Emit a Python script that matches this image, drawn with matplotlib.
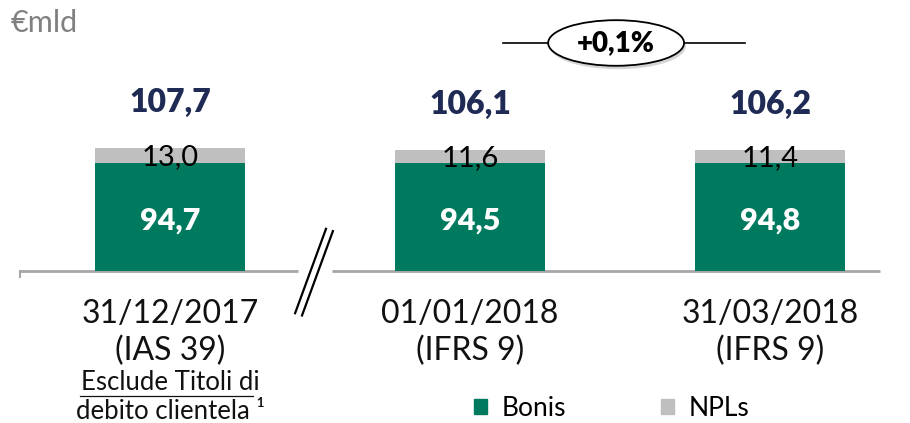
import matplotlib.pyplot as plt
from matplotlib.patches import Ellipse, Patch

# data
dates = ['31/12/2017', '01/01/2018', '31/03/2018']
standards = ['(IAS 39)', '(IFRS 9)', '(IFRS 9)']
bonis = [94.7, 94.5, 94.8]
npls = [13.0, 11.6, 11.4]
totals = [107.7, 106.1, 106.2]

green = '#007A5E'
grey = '#BFBFBF'
navy = '#1F2A55'

plt.rcParams['font.family'] = ['Lato', 'DejaVu Sans']

fig = plt.figure(figsize=(9.1, 4.23), dpi=100)
ax = fig.add_axes([0, 0, 1, 1])
ax.set_xlim(-0.5667, 2.4667)
ax.set_ylim(-133.3, 237.7)
ax.axis('off')

x = list(range(len(dates)))
ax.bar(x, bonis, width=0.497, color=green, zorder=2)
ax.bar(x, npls, width=0.497, bottom=bonis, color=grey, zorder=2)

def fmt(v):
    return f'{v:.1f}'.replace('.', ',')

for i in x:
    ax.text(i, totals[i] + 40, fmt(totals[i]), ha='center', va='center',
            fontsize=23, fontweight='heavy', color=navy)
    ax.text(i, bonis[i] + npls[i] / 2 - 1, fmt(npls[i]), ha='center', va='center',
            fontsize=21, color='black', zorder=3)
    ax.text(i, bonis[i] / 2 - 3, fmt(bonis[i]), ha='center', va='center',
            fontsize=22, fontweight='heavy', color='white', zorder=3)
    ax.text(i, -38, dates[i], ha='center', va='center', fontsize=23, color='#111111')
    ax.text(i, -70, standards[i], ha='center', va='center', fontsize=23, color='#111111')

# baseline with break
ax.plot([-0.5, 0.427], [0, 0], color='#A6A6A6', lw=2, zorder=1, solid_capstyle='butt')
ax.plot([0.54, 2.367], [0, 0], color='#A6A6A6', lw=2, zorder=1, solid_capstyle='butt')
ax.plot([-0.5, -0.5], [0, -5], color='#A6A6A6', lw=1.5)
ax.plot([0.417, 0.52], [-37, 37], color='black', lw=1.6)
ax.plot([0.44, 0.543], [-39, 35], color='black', lw=1.6)

# growth bubble
growth = (totals[2] / totals[1] - 1) * 100
cx, cy = 1.487, 200
ax.plot([1.11, 1.26], [cy, cy], color='black', lw=1.2)
ax.plot([1.713, 1.917], [cy, cy], color='black', lw=1.2)
ax.add_patch(Ellipse((cx + 0.006, cy - 3), 0.453, 40, facecolor='#888888',
                     edgecolor='none', alpha=0.35, zorder=3))
ax.add_patch(Ellipse((cx, cy), 0.453, 40, facecolor='white',
                     edgecolor='black', lw=1.3, zorder=4))
ax.text(cx, cy, f'+{growth:.1f}%'.replace('.', ','), ha='center', va='center',
        fontsize=20, fontweight='heavy', zorder=5)

ax.text(0.012, 0.945, '€mld', transform=ax.transAxes, fontsize=22, color='#808080',
        va='center')

ax.text(0, -98, 'Esclude Titoli di', ha='center', va='center', fontsize=18.5,
        color='#111111')
ax.plot([-0.3, 0.275], [-110, -110], color='#111111', lw=0.9)
ax.text(0, -123, 'debito clientela ¹', ha='center', va='center', fontsize=18.5,
        color='#111111')

handles = [Patch(color=green, label='Bonis'), Patch(color=grey, label='NPLs')]
ax.legend(handles=handles, loc='center', bbox_to_anchor=(0.672, 0.035), ncol=2,
          frameon=False, fontsize=19, handlelength=0.5, handleheight=0.5,
          handletextpad=0.55, columnspacing=3.6)

fig.savefig('out.png', dpi=100)
